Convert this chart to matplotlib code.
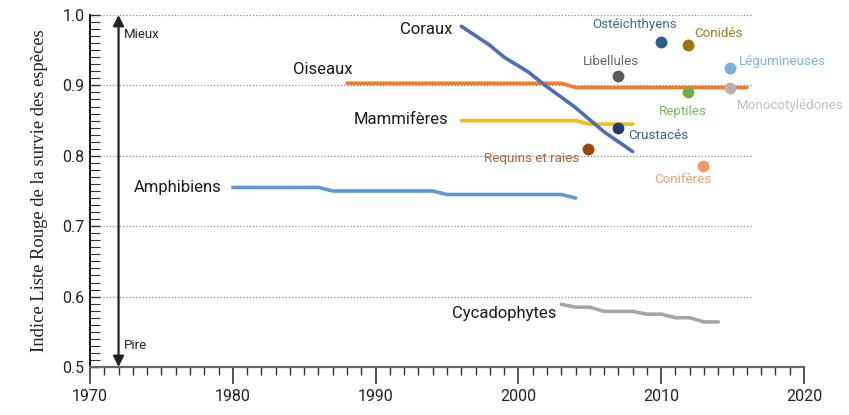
import matplotlib
matplotlib.use("Agg")
import matplotlib.pyplot as plt
from matplotlib import font_manager
from matplotlib.ticker import MultipleLocator

names = {f.name for f in font_manager.fontManager.ttflist}
SANS = 'Liberation Sans Narrow' if 'Liberation Sans Narrow' in names else 'Roboto'
plt.rcParams['font.family'] = [SANS, 'DejaVu Sans']

# ---- data ----
coraux_x = [1996, 1998, 1999, 2000.7, 2001.8, 2003.9, 2006, 2008]
coraux_y = [0.984, 0.957, 0.940, 0.919, 0.901, 0.870, 0.834, 0.806]
oiseaux_x = [1988, 2003, 2004, 2016]
oiseaux_y = [0.903, 0.903, 0.897, 0.897]
mamm_x = [1996, 2004, 2005, 2008]
mamm_y = [0.850, 0.850, 0.845, 0.845]
amph_x = [1980, 1986, 1987, 1994, 1995, 2003, 2004]
amph_y = [0.755, 0.755, 0.750, 0.750, 0.745, 0.745, 0.740]
cyca_x = [2003, 2004, 2005, 2006, 2008, 2009, 2010, 2011, 2012, 2013, 2014]
cyca_y = [0.589, 0.585, 0.585, 0.579, 0.579, 0.575, 0.575, 0.570, 0.570, 0.564, 0.564]

pt_names = ['Ostéichthyens', 'Conidés', 'Libellules', 'Légumineuses', 'Reptiles',
            'Monocotylédones', 'Crustacés', 'Requins et raies', 'Conifères']
pt_x = [2010, 2011.9, 2007, 2014.8, 2011.9, 2014.8, 2007, 2004.9, 2012.9]
pt_y = [0.962, 0.957, 0.914, 0.924, 0.891, 0.896, 0.839, 0.810, 0.786]
pt_colors = ['#255e91', '#9e7000', '#5a5a5a', '#78b0e2', '#70ad47',
             '#b4b4b4', '#1f3d73', '#9c450c', '#f79a62']
pt_text_colors = ['#3b68a4', '#a07a1a', '#666666', '#7ab3e4', '#7db85a',
                  '#c0c0c0', '#3d5a92', '#b0643a', '#f7a06a']
# label anchor: (x, y, ha)
pt_lab = [(2008.1, 0.986, 'center'), (2012.3, 0.974, 'left'), (2006.5, 0.934, 'center'),
          (2015.45, 0.934, 'left'), (2011.5, 0.863, 'center'), (2015.3, 0.871, 'left'),
          (2007.7, 0.829, 'left'), (2000.9, 0.796, 'center'), (2011.5, 0.767, 'center')]

xticks = [1970, 1980, 1990, 2000, 2010, 2020]
yticks = [0.5, 0.6, 0.7, 0.8, 0.9, 1.0]

fig = plt.figure(figsize=(8.49, 4.15), dpi=100)
ax = fig.add_axes([0.106, 0.1157, 0.841, 0.8482])
ax.set_xlim(1970, 2020)
ax.set_ylim(0.5, 1.0)

# grid
for yv in yticks[1:]:
    ax.plot([1970, 2016.3], [yv, yv], color='#8c8c8c', lw=0.9, ls=(0, (1, 1.6)), zorder=1)

lw = 2.6
ax.plot(oiseaux_x, oiseaux_y, color='#f47a30', lw=lw, solid_capstyle='round', zorder=3)
ax.plot(mamm_x, mamm_y, color='#fdbb0a', lw=lw, solid_capstyle='round', zorder=3)
ax.plot(amph_x, amph_y, color='#5b9bd5', lw=lw, solid_capstyle='round', zorder=3)
ax.plot(cyca_x, cyca_y, color='#a5a5a5', lw=lw, solid_capstyle='round', zorder=3)
ax.plot(coraux_x, coraux_y, color='#4a6fbd', lw=lw, solid_capstyle='round', zorder=4)

for x, y, c in zip(pt_x, pt_y, pt_colors):
    ax.plot([x], [y], 'o', color=c, ms=8.5, mec='none', zorder=5)
for name, (lx, ly, ha), tc in zip(pt_names, pt_lab, pt_text_colors):
    ax.text(lx, ly, name, color=tc, fontsize=9.6, ha=ha, va='center', zorder=6)

big = 12
ax.text(1995.4, 0.979, 'Coraux', fontsize=big, ha='right', va='center', color='#1a1a1a')
ax.text(1988.4, 0.922, 'Oiseaux', fontsize=big, ha='right', va='center', color='#1a1a1a')
ax.text(1995.1, 0.851, 'Mammifères', fontsize=big, ha='right', va='center', color='#1a1a1a')
ax.text(1979.2, 0.755, 'Amphibiens', fontsize=big, ha='right', va='center', color='#1a1a1a')
ax.text(2002.65, 0.576, 'Cycadophytes', fontsize=big, ha='right', va='center', color='#1a1a1a')

# arrow
ax.annotate('', xy=(1972, 1.0), xytext=(1972, 0.5),
            arrowprops=dict(arrowstyle='<|-|>', color='#222222', lw=1.6,
                            mutation_scale=16, shrinkA=0, shrinkB=0), zorder=6)
ax.text(1972.4, 0.972, 'Mieux', fontsize=9.5, ha='left', va='center', color='#222222')
ax.text(1972.4, 0.531, 'Pire', fontsize=9.5, ha='left', va='center', color='#222222')

# axes styling
for s in ['top', 'right']:
    ax.spines[s].set_visible(False)
ax.spines['left'].set_color('#111111')
ax.spines['left'].set_linewidth(1.4)
ax.spines['bottom'].set_color('#666666')
ax.spines['bottom'].set_linewidth(1.6)

ax.set_xticks(xticks)
ax.set_yticks(yticks)
ax.set_yticklabels([f'{v:.1f}' for v in yticks])
ax.xaxis.set_minor_locator(MultipleLocator(1))
ax.yaxis.set_minor_locator(MultipleLocator(0.01))
ax.tick_params(axis='x', which='major', direction='out', length=12, width=1.2,
               color='#333333', labelsize=11.5, pad=4, labelcolor='#222222')
ax.tick_params(axis='x', which='minor', direction='out', length=6, width=1.0, color='#333333')
ax.tick_params(axis='y', which='major', direction='in', length=7, width=1.0,
               color='#333333', labelsize=11.5, pad=4, labelcolor='#222222')
ax.tick_params(axis='y', which='minor', direction='in', length=7, width=0.8, color='#333333')

ax.set_ylabel('Indice Liste Rouge de la survie des espèces',
              family=['Liberation Serif', 'DejaVu Serif'], fontsize=13.4, color='#222222', labelpad=10)

fig.savefig('out.png', dpi=100)
